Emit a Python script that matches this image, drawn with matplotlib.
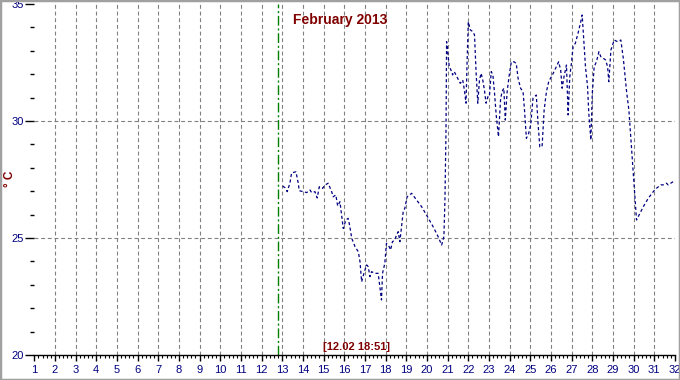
"""Air temperature trace for February 2013 (old logger-style chart)."""

import matplotlib
matplotlib.use("Agg")
import matplotlib.pyplot as plt
from matplotlib.patches import Rectangle
from matplotlib.ticker import MultipleLocator

plt.rcParams["font.family"] = ["Liberation Sans", "DejaVu Sans"]

# time in days of the month (fractional), temperature in deg C
day = [
    13.02, 13.13, 13.24, 13.37, 13.45, 13.66, 13.77, 13.82, 14.02, 14.18,
    14.34, 14.42, 14.58, 14.69, 14.79, 14.95, 15.06, 15.22, 15.39, 15.46,
    15.59, 15.68, 15.79, 15.84, 15.95, 16.08, 16.19, 16.27, 16.36, 16.52,
    16.68, 16.76, 16.84, 16.95, 17.08, 17.16, 17.24, 17.32, 17.48, 17.64,
    17.72, 17.80, 17.85, 17.96, 18.04, 18.17, 18.24, 18.33, 18.44, 18.53,
    18.61, 18.69, 18.77, 18.85, 18.93, 19.04, 19.26, 19.50, 19.74, 19.98,
    20.30, 20.54, 20.71, 20.82, 20.87, 20.92, 20.95, 21.08, 21.16, 21.24,
    21.32, 21.49, 21.61, 21.73, 21.81, 21.89, 21.94, 22.00, 22.10, 22.22,
    22.30, 22.38, 22.46, 22.54, 22.62, 22.70, 22.78, 22.86, 22.95, 23.02,
    23.11, 23.19, 23.27, 23.35, 23.46, 23.56, 23.63, 23.72, 23.79, 23.88,
    23.97, 24.08, 24.21, 24.32, 24.41, 24.53, 24.65, 24.72, 24.81, 24.92,
    25.02, 25.13, 25.29, 25.38, 25.46, 25.57, 25.67, 25.78, 25.89, 26.02,
    26.15, 26.26, 26.37, 26.47, 26.54, 26.63, 26.75, 26.83, 26.91, 26.99,
    27.07, 27.18, 27.31, 27.44, 27.51, 27.60, 27.67, 27.77, 27.83, 27.93,
    28.00, 28.09, 28.20, 28.32, 28.41, 28.53, 28.64, 28.74, 28.80, 28.90,
    29.06, 29.22, 29.38, 29.50, 29.66, 29.77, 29.87, 29.98, 30.14, 30.31,
    30.47, 30.71, 30.95, 31.11, 31.32, 31.43, 31.59, 31.67, 31.92,
]
temp = [
    27.22, 27.15, 26.98, 27.35, 27.78, 27.83, 27.35, 27.02, 26.98, 26.94,
    27.05, 26.94, 26.98, 26.71, 27.19, 27.12, 27.26, 27.34, 26.98, 26.76,
    26.84, 26.37, 26.55, 26.20, 25.41, 25.77, 25.84, 25.48, 24.99, 24.63,
    24.41, 23.99, 23.13, 23.49, 23.85, 23.77, 23.35, 23.56, 23.49, 23.49,
    22.92, 22.35, 23.49, 23.91, 24.77, 24.63, 24.49, 24.84, 24.91, 25.13,
    25.27, 24.84, 25.48, 26.12, 26.27, 26.76, 26.91, 26.62, 26.34, 25.98,
    25.48, 25.06, 24.70, 25.06, 26.62, 29.49, 33.39, 32.32, 32.18, 31.97,
    32.11, 31.82, 31.61, 31.75, 31.33, 30.76, 32.47, 34.24, 33.89, 33.82,
    33.68, 32.04, 30.76, 31.75, 32.04, 31.75, 31.33, 30.76, 31.04, 31.04,
    32.11, 31.97, 31.18, 30.26, 29.33, 30.90, 31.25, 31.40, 30.04, 31.25,
    31.89, 32.53, 32.53, 32.46, 31.82, 31.40, 31.25, 30.47, 29.26, 29.47,
    29.83, 30.97, 31.11, 29.83, 28.90, 28.90, 30.47, 31.25, 31.68, 31.89,
    32.11, 32.32, 32.53, 32.18, 31.40, 31.89, 32.39, 30.26, 31.89, 32.47,
    33.18, 33.32, 33.75, 34.24, 34.53, 33.32, 32.32, 31.47, 30.33, 29.19,
    31.18, 32.32, 32.53, 32.96, 32.75, 32.68, 32.61, 32.32, 31.68, 33.03,
    33.46, 33.39, 33.46, 32.68, 31.25, 30.47, 29.19, 27.77, 25.77, 26.06,
    26.34, 26.70, 26.98, 27.13, 27.27, 27.27, 27.34, 27.27, 27.41,
]

cursor_day = 12 + (18 + 51 / 60) / 24   # [12.02 18:51]
cursor_label = "[12.02 18:51]"
title = "February 2013"
x_ticks = list(range(1, 33))
y_ticks = [20, 25, 30, 35]

NAVY = "#000080"
MAROON = "#800000"
GRIDC = "#808080"

fig = plt.figure(figsize=(6.8, 3.8), dpi=100)
ax = fig.add_axes([0.0504, 0.0658, 0.9422, 0.9237])

ax.set_xlim(1, 32)
ax.set_ylim(20, 35)

# grid, skipping the frame edges
for d in x_ticks[1:-1]:
    ax.axvline(d, color=GRIDC, lw=0.8, dashes=(3.5, 2.5), zorder=1)
for t in y_ticks[1:-1]:
    ax.axhline(t, color=GRIDC, lw=0.8, dashes=(3.5, 2.5), zorder=1)

ax.axvline(cursor_day, color="#008000", lw=1.0, dashes=(7, 2, 1.5, 2), zorder=2)

ax.plot(day, temp, color=NAVY, lw=0.9, dashes=(2.5, 2), zorder=3)

ax.set_xticks(x_ticks)
ax.xaxis.set_minor_locator(MultipleLocator(0.2))
ax.set_yticks(y_ticks)
ax.yaxis.set_minor_locator(MultipleLocator(1))

for side in ("top", "right", "left"):
    ax.spines[side].set_visible(False)
ax.spines["bottom"].set_color("black")
ax.spines["bottom"].set_linewidth(1.0)

ax.tick_params(axis="x", which="major", length=4.5, width=1, color="black",
               labelsize=8, labelcolor=NAVY, pad=2.5)
ax.tick_params(axis="x", which="minor", length=2.5, width=0.8, color="black")
ax.tick_params(axis="y", which="major", length=6.5, width=1, color="black",
               labelsize=8, labelcolor=NAVY, pad=1)
ax.tick_params(axis="y", which="minor", length=3, width=1, color="black")

ax.text(0.477, 0.975, title, transform=ax.transAxes, ha="center", va="top",
        fontsize=10, fontweight="bold", color=MAROON)
ax.text(0.503, 0.008, cursor_label, transform=ax.transAxes, ha="center", va="bottom",
        fontsize=8, fontweight="bold", color=MAROON)
fig.text(0.015, 0.53, "° C", rotation=90, ha="center", va="center",
         fontsize=8.5, fontweight="bold", color=MAROON)

fig.add_artist(Rectangle((0, 0), 1, 1, transform=fig.transFigure, fill=False,
                         ec="#a0a0a0", lw=2.5))

fig.savefig("out.png", dpi=100)
